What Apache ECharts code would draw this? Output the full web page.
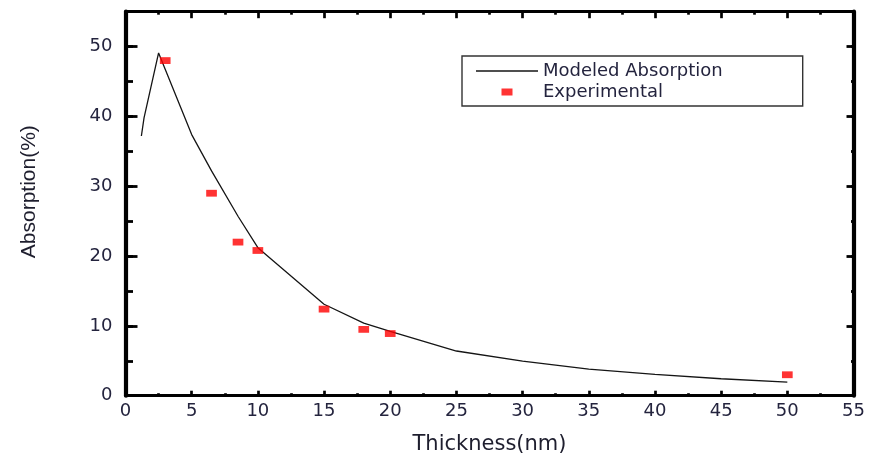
<!DOCTYPE html>
<html>
<head>
<meta charset="utf-8">
<script src="https://cdn.jsdelivr.net/npm/echarts@6/dist/echarts.min.js"></script>
<style>
  html, body { margin: 0; padding: 0; background: #fff; overflow: hidden; }
  #chart { width: 870px; height: 458px; }
</style>
</head>
<body>
<div id="chart"></div>
<script>
// Modeled absorption curve (thickness in nm, absorption in %)
const modelThickness = [1.2, 1.4, 2.5, 5, 6.5, 8.5, 10, 15, 18, 20, 25, 30, 35, 40, 45, 50];
const modelAbsorption = [37.2, 39.8, 49.1, 37.4, 32.2, 25.7, 21.2, 13.1, 10.4, 9.2, 6.4, 4.95, 3.8, 3.05, 2.43, 1.95];

// Measured samples
const expThickness = [3, 6.5, 8.5, 10, 15, 18, 20, 50];
const expAbsorption = [48, 29, 22, 20.8, 12.4, 9.5, 8.9, 3];

// Axis ranges and tick spacing
const xRange = [0, 55];
const xStep = 5;
const yRange = [0, 55];
const yLabelStep = 10;
const yMinorStep = 5;

const seriesNames = ['Modeled Absorption', 'Experimental'];

const WIDE_FONT = 'DejaVu Sans, Verdana, sans-serif';
const NARROW_FONT = 'Liberation Sans, Arial, sans-serif';
const LABEL_COLOR = '#24243e';
const INK = '#000';
const CURVE = '#151515';

const modelData = modelThickness.map((x, i) => [x, modelAbsorption[i]]);
const expData = expThickness.map((x, i) => [x, expAbsorption[i]]);

function xAxisDef(pos, major, minor, withLabels) {
  return {
    type: 'value', position: pos, min: xRange[0], max: xRange[1], interval: xStep,
    axisLine: { show: true, onZero: false, lineStyle: { color: INK, width: 3 } },
    axisTick: { show: true, inside: true, length: major, lineStyle: { color: INK, width: 2.7 } },
    minorTick: { show: true, splitNumber: 2, length: minor, lineStyle: { color: INK, width: 2.7 } },
    splitLine: { show: false }, minorSplitLine: { show: false },
    axisLabel: withLabels
      ? { show: true, margin: 7, fontSize: 18, fontFamily: WIDE_FONT, color: LABEL_COLOR }
      : { show: false },
    name: withLabels ? 'Thickness(nm)' : '',
    nameLocation: 'middle', nameGap: 38,
    nameTextStyle: { fontSize: 21, fontFamily: WIDE_FONT, color: '#1e1e2e' }
  };
}

function yAxisDef(pos, step, tickLen, showLine, withLabels) {
  return {
    type: 'value', position: pos, min: yRange[0], max: yRange[1], interval: step,
    axisLine: { show: showLine, onZero: false, lineStyle: { color: INK, width: 4.2 } },
    axisTick: { show: true, inside: true, length: tickLen, lineStyle: { color: INK, width: 2.8 } },
    splitLine: { show: false },
    axisLabel: withLabels
      ? { show: true, margin: 13, fontSize: 18, fontFamily: WIDE_FONT, color: LABEL_COLOR, showMaxLabel: false }
      : { show: false },
    name: withLabels ? 'Absorption(%)' : '',
    nameLocation: 'middle', nameGap: 86, nameRotate: 90,
    nameTextStyle: { fontSize: 21, fontFamily: NARROW_FONT, color: '#1e1e2e', padding: [0, 0, 0, 24] }
  };
}

const chart = echarts.init(document.getElementById('chart'), null, { renderer: 'canvas' });

chart.setOption({
  backgroundColor: '#fff',
  animation: false,
  grid: { left: 125.5, right: 16.5, top: 11.7, bottom: 62.3, containLabel: false, outerBoundsMode: 'none' },
  legend: {
    orient: 'vertical',
    left: 462, top: 56,
    padding: [6, 80, 5, 14],
    itemGap: 3,
    itemWidth: 62, itemHeight: 7,
    borderColor: '#333', borderWidth: 1.4,
    textStyle: { fontSize: 18, fontFamily: WIDE_FONT, color: LABEL_COLOR },
    data: [
      // plain line sample for the curve, small block for the samples
      { name: seriesNames[0], icon: 'path://M0,0h620v13h-620z' },
      { name: seriesNames[1], icon: 'path://M0,0h107v68h-107z' }
    ]
  },
  xAxis: [
    xAxisDef('bottom', 5, 2.5, true),
    xAxisDef('top', 6.5, 3, false)
  ],
  yAxis: [
    yAxisDef('left', yLabelStep, 12, true, true),
    yAxisDef('left', yMinorStep, 7.5, false, false),
    yAxisDef('right', yLabelStep, 7, true, false),
    yAxisDef('right', yMinorStep, 2.5, false, false)
  ],
  series: [
    {
      name: seriesNames[0], type: 'line', data: modelData,
      xAxisIndex: 0, yAxisIndex: 0,
      symbol: 'none', smooth: false,
      lineStyle: { color: CURVE, width: 1.3 },
      itemStyle: { color: CURVE },
      z: 2
    },
    {
      name: seriesNames[1], type: 'scatter', data: expData,
      xAxisIndex: 0, yAxisIndex: 0,
      symbol: 'rect', symbolSize: [10.7, 6.8],
      itemStyle: { color: '#ff0000' },
      z: 3
    }
  ]
});
</script>
</body>
</html>
